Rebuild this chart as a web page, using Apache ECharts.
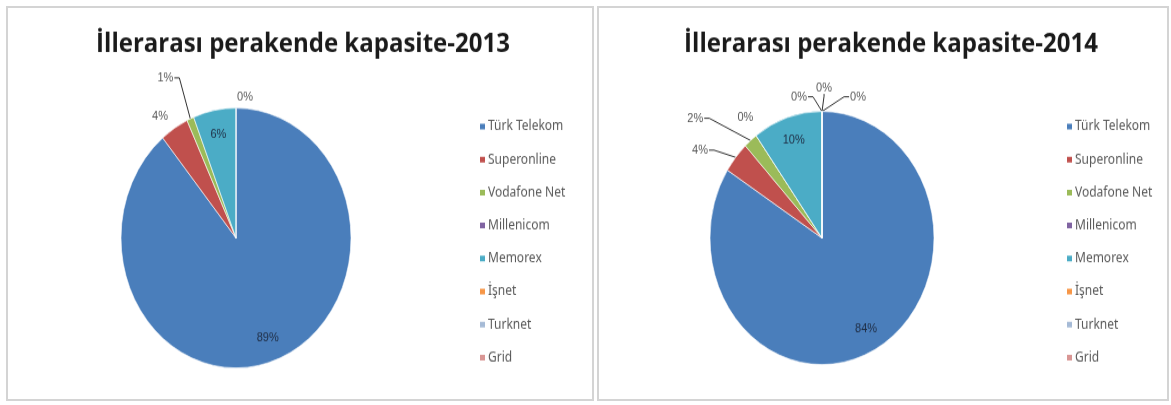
<!DOCTYPE html>
<html><head><meta charset="utf-8">
<script src="https://cdn.jsdelivr.net/npm/echarts@6/dist/echarts.min.js"></script>
<style>
html,body{margin:0;padding:0;background:#fff;width:1171px;height:405px;overflow:hidden;position:relative;}
.frame{position:absolute;border:2px solid #d4d4d4;box-sizing:border-box;}
#chart{position:absolute;left:0;top:0;width:1171px;height:358.4px;transform:scaleY(1.13);transform-origin:0 0;}
</style></head><body>
<div class="frame" style="left:6px;top:6px;width:588px;height:395px"></div>
<div class="frame" style="left:597px;top:6px;width:572px;height:395px"></div>
<div id="chart"></div>
<script>
// ---- data ----
const categories = ['Türk Telekom', 'Superonline', 'Vodafone Net', 'Millenicom', 'Memorex', 'İşnet', 'Turknet', 'Grid'];
const values2013 = [89, 4, 1, '-', 6, '-', '-', 0];
const values2014 = [84, 4, 2, 0, 10, 0, 0, 0];
const titles = ['İllerarası perakende kapasite-2013', 'İllerarası perakende kapasite-2014'];

// ---- styling ----
const SY = 1.13; // vertical stretch (pies are elliptical in the original)
const colors = ['#4a7ebb', '#c0504d', '#9bbb59', '#8064a2', '#4bacc6', '#f79646', '#a5bad6', '#d99694'];
const pieCenters = [[236, 238 / SY], [822, 238 / SY]];
const pieRadius = [115, 112];
const INSIDE_MIN = 5;
// nudges for outside labels (per chart, per category index): [dx, dy, showLeaderLine]
const labelNudges = [
  { 1: [14, -2, false], 2: [2, -27, true], 7: [32, 0, false] },
  { 1: [-5, 0, true], 2: [-26, -12, true], 3: [18, -8, false], 5: [0, -3, true], 6: [25, -11, true], 7: [59, -3, true] }
];

function buildData(vals) {
  return categories.map((name, i) => {
    const v = vals[i];
    const inside = typeof v === 'number' && v >= INSIDE_MIN;
    return {
      name, value: v,
      label: inside ? { position: 'inside', color: '#1f2d44' } : { position: 'outside', color: '#595959' },
      labelLine: { show: !inside }
    };
  });
}

function pieSeries(vals, idx) {
  const c = pieCenters[idx];
  const nudges = labelNudges[idx];
  return {
    type: 'pie',
    center: c,
    radius: pieRadius[idx],
    startAngle: 90,
    clockwise: true,
    avoidLabelOverlap: false,
    data: buildData(vals),
    itemStyle: { borderColor: '#ffffff', borderWidth: 0.6 },
    label: {
      formatter: p => Math.round(p.percent) + '%',
      fontFamily: "'Liberation Sans Narrow', 'Liberation Sans', sans-serif",
      fontSize: 11
    },
    labelLine: { length: 10, length2: 10, lineStyle: { color: '#303030', width: 1 } },
    emphasis: { disabled: true },
    labelLayout: function (params) {
      const d = vals[params.dataIndex];
      const r = params.labelRect;
      if (typeof d === 'number' && d >= INSIDE_MIN) {
        const lx = r.x + r.width / 2, ly = r.y + r.height / 2;
        return { dx: (lx - c[0]) * 0.55, dy: (ly - c[1]) * 0.55 };
      }
      const n = nudges[params.dataIndex];
      if (!n) return {};
      const out = { dx: n[0], dy: n[1] };
      const pts = params.labelLinePoints;
      if (pts && pts.length) {
        const p0 = pts[0];
        const L = r.x + n[0], T = r.y + n[1], R = L + r.width, B = T + r.height;
        const cy = (T + B) / 2, cx = (L + R) / 2;
        let end, elbow;
        if (!n[2]) {
          end = p0; elbow = p0;
        } else if (R < p0[0] - 2) {
          end = [R + 1, cy]; elbow = [R + 6, cy];
        } else if (L > p0[0] + 2) {
          end = [L - 1, cy]; elbow = [L - 6, cy];
        } else {
          end = [cx, B]; elbow = [cx, B + 2];
        }
        out.labelLinePoints = [p0, elbow, end];
      }
      return out;
    }
  };
}

function legend(left) {
  return {
    orient: 'vertical', left: left, top: 100,
    icon: 'rect', itemWidth: 7, itemHeight: 7, itemGap: 15.2,
    data: categories,
    selectedMode: false,
    textStyle: { color: '#595959', fontSize: 12, lineHeight: 14, fontFamily: "'Noto Sans', sans-serif", padding: [0, 0, 0, -3] }
  };
}

const chart = echarts.init(document.getElementById('chart'), null, { renderer: 'canvas' });
chart.setOption({
  animation: false,
  color: colors,
  title: titles.map((t, i) => ({
    text: t,
    left: i === 0 ? 298 : 886,
    textAlign: 'center',
    top: 22,
    textStyle: { fontFamily: "'Open Sans', sans-serif", fontWeight: 'bold', fontSize: 24, color: '#1a1a1a' }
  })),
  legend: [legend(473), legend(1060)],
  series: [pieSeries(values2013, 0), pieSeries(values2014, 1)]
});
</script>
</body></html>
